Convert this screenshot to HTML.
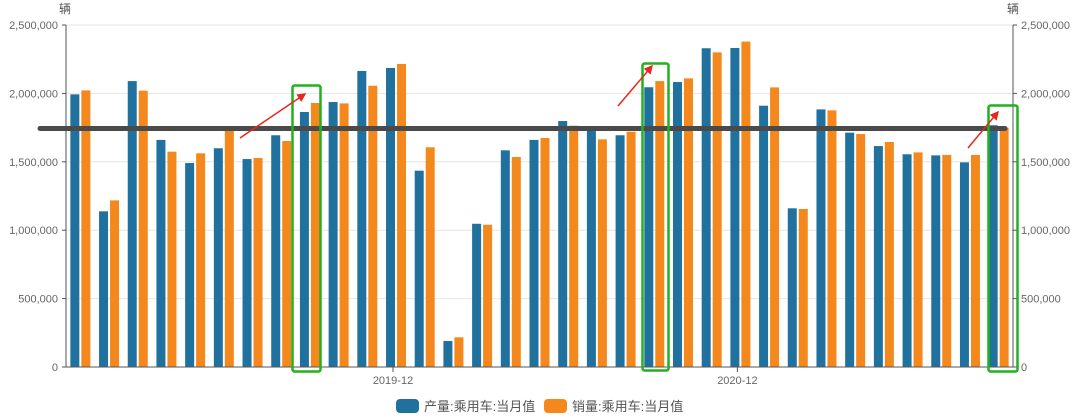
<!DOCTYPE html>
<html><head><meta charset="utf-8"><style>
html,body{margin:0;padding:0;background:#fff;}
svg{display:block;font-family:"Liberation Sans","Noto Sans CJK SC",sans-serif;}
</style></head><body>
<svg id="chart" width="1080" height="418" viewBox="0 0 1080 418" xmlns="http://www.w3.org/2000/svg">
<g id="grid"></g>
<g id="bars"></g>
<g id="axes"></g>
<line x1="40" y1="128.5" x2="1005" y2="128.5" stroke="#4a4a4a" stroke-width="5" stroke-linecap="round"/>
<g fill="none" stroke="#22b11f" stroke-width="2.5">
<rect x="292.5" y="85.5" width="28" height="286" rx="2"/>
<rect x="642.5" y="63.5" width="26" height="307" rx="2"/>
<rect x="988.5" y="105.5" width="29" height="266" rx="2"/>
</g>
<defs><marker id="ah" markerWidth="6" markerHeight="6" refX="5" refY="3" orient="auto"><path d="M0,0 L6,3 L0,6 z" fill="#e8261e"/></marker></defs>
<g stroke="#e8261e" stroke-width="1.5">
<line x1="240" y1="138" x2="305" y2="94" marker-end="url(#ah)"/>
<line x1="618" y1="106" x2="652" y2="66" marker-end="url(#ah)"/>
<line x1="968" y1="148" x2="998" y2="112" marker-end="url(#ah)"/>
</g>
<text x="59" y="13" font-size="12" fill="#555">辆</text>
<text x="1007" y="13" font-size="12" fill="#555">辆</text>
<g font-size="13" fill="#555">
<rect x="396" y="399" width="23" height="14" rx="4" fill="#21719f"/>
<text x="424" y="411">产量:乘用车:当月值</text>
<rect x="544" y="399" width="23" height="14" rx="4" fill="#f5881c"/>
<text x="572" y="411">销量:乘用车:当月值</text>
</g>
</svg>
<script>
const categories = Array.from({length:33},(_,i)=>{const m=i%12+1,y=2019+Math.floor(i/12);return y+'-'+(m<10?'0'+m:m);});
const production = [1993000,1138000,2090000,1660000,1491000,1599000,1520000,1694000,1864000,1937000,2164000,2186000,1435000,190000,1047000,1584000,1660000,1798000,1740000,1694000,2045000,2083000,2330000,2332000,1910000,1160000,1883000,1713000,1615000,1555000,1547000,1496000,1767000];
const sales = [2022000,1218000,2020000,1574000,1562000,1732000,1528000,1652000,1930000,1927000,2056000,2215000,1606000,217000,1040000,1535000,1674000,1764000,1664000,1720000,2090000,2110000,2300000,2379000,2044000,1155000,1876000,1703000,1645000,1569000,1550000,1550000,1749000];
const yTicks = [0,500000,1000000,1500000,2000000,2500000];
const xLabelIdx = [11,23];

const NS='http://www.w3.org/2000/svg';
const X0=66,X1=1013,Y0=367,Y1=25,YMAX=2500000;
const band=(X1-X0)/categories.length;
const xc=i=>X0+(i+0.5)*band;
const yv=v=>Y0-(v/YMAX)*(Y0-Y1);
function mk(tag,attrs,parent){const e=document.createElementNS(NS,tag);for(const k in attrs)e.setAttribute(k,attrs[k]);parent.appendChild(e);return e;}
const grid=document.getElementById('grid'),bars=document.getElementById('bars'),axes=document.getElementById('axes');
yTicks.forEach(t=>{
  const y=yv(t);
  if(t>0){const g=mk('line',{x1:X0,x2:X1,y1:y,y2:y,stroke:'#e6e6e6','stroke-width':1},grid);
  
  }
  const s=t.toLocaleString('en-US');
  const l=mk('text',{x:X0-8,y:y+4,'text-anchor':'end','font-size':11,fill:'#666'},axes);l.textContent=s;
  
  
  const r=mk('text',{x:X1+8,y:y+4,'font-size':11,fill:'#666'},axes);r.textContent=s;
  
  
  const tl=mk('line',{x1:X0-4,x2:X0,y1:y,y2:y,stroke:'#555'},axes);
  
  
  const tr=mk('line',{x1:X1,x2:X1+4,y1:y,y2:y,stroke:'#555'},axes);
  
  
});
categories.forEach((c,i)=>{
  const cx=xc(i);
  const b=mk('rect',{x:cx-10,y:yv(production[i]),width:9,height:Y0-yv(production[i]),fill:'#21719f'},bars);
  
  
  const o=mk('rect',{x:cx+1,y:yv(sales[i]),width:9,height:Y0-yv(sales[i]),fill:'#f5881c'},bars);
  
  
});
const la=mk('line',{x1:X0,x2:X0,y1:Y1,y2:Y0,stroke:'#555'},axes);


const ra=mk('line',{x1:X1,x2:X1,y1:Y1,y2:Y0,stroke:'#555'},axes);


const xa=mk('line',{x1:X0,x2:X1,y1:Y0,y2:Y0,stroke:'#555'},axes);


xLabelIdx.forEach(i=>{
  const x=xc(i)-3;
  const t=mk('line',{x1:x,x2:x,y1:Y0,y2:Y0+5,stroke:'#555'},axes);
  
  
  const l=mk('text',{x:x,y:Y0+17,'text-anchor':'middle','font-size':11,fill:'#666'},axes);l.textContent=categories[i];
  
  
});
</script>
</body></html>
